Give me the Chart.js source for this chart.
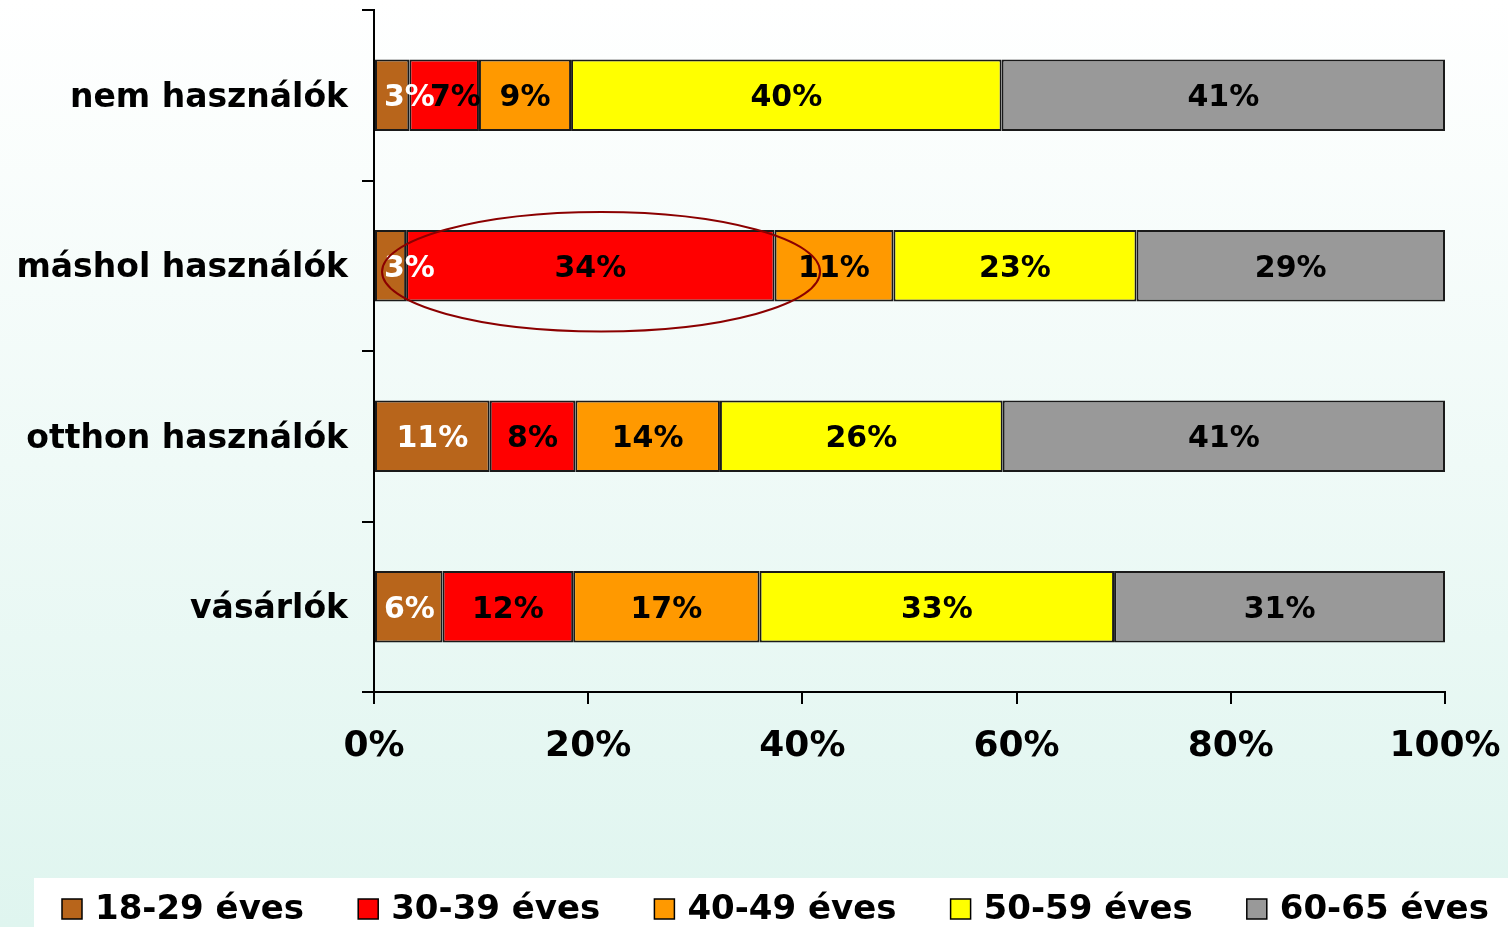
<!DOCTYPE html>
<html lang="hu">
<head>
    <meta charset="UTF-8">
    <script src="https://cdn.jsdelivr.net/npm/chart.js"></script>
    <title>Korcsoportok</title>
    <style>
        html, body { margin: 0; padding: 0; }
        body { width: 1508px; height: 927px; background: linear-gradient(to bottom, #ffffff 0%, #dff5ef 100%); overflow: hidden; }
        #wrap { width: 1508px; height: 927px; }
    </style>
</head>
<body>
    <div id="wrap"><canvas id="chart"></canvas></div>
    <script>
        const categories = ['nem használók', 'máshol használók', 'otthon használók', 'vásárlók'];
        const seriesNames = ['18-29 éves', '30-39 éves', '40-49 éves', '50-59 éves', '60-65 éves'];
        const seriesColors = ['#b8651b', '#ff0000', '#ff9900', '#ffff00', '#999999'];

        // shares in %, one array per age group, in category order
        const age18_29 = [3.3, 3.0, 10.8, 6.4];
        const age30_39 = [6.5, 34.4, 8.0, 12.2];
        const age40_49 = [8.6, 11.1, 13.5, 17.4];
        const age50_59 = [40.2, 22.7, 26.4, 33.1];
        const age60_65 = [41.4, 28.8, 41.3, 30.9];

        // labels as printed on the bars
        const labels18_29 = ['3%', '3%', '11%', '6%'];
        const labels30_39 = ['7%', '34%', '8%', '12%'];
        const labels40_49 = ['9%', '11%', '14%', '17%'];
        const labels50_59 = ['40%', '23%', '26%', '33%'];
        const labels60_65 = ['41%', '29%', '41%', '31%'];

        const xTicks = [0, 20, 40, 60, 80, 100];

        // highlighted area: centre (value, category index) and radii in the same units
        const highlight = { x: 21.2, y: 1.035, rx: 20.45, ry: 0.35 };

        const allValues = [age18_29, age30_39, age40_49, age50_59, age60_65];
        const allLabels = [labels18_29, labels30_39, labels40_49, labels50_59, labels60_65];
        const FONT = '"DejaVu Sans", Verdana, sans-serif';

        const barLabels = {
            id: 'barLabels',
            afterDatasetsDraw(chart) {
                const ctx = chart.ctx;
                ctx.save();
                ctx.font = 'bold 30px ' + FONT;
                ctx.textBaseline = 'middle';
                ctx.textAlign = 'left';
                categories.forEach((c, j) => {
                    let prevRight = -Infinity;
                    chart.data.datasets.forEach((ds, i) => {
                        const bar = chart.getDatasetMeta(i).data[j];
                        const text = allLabels[i][j];
                        const w = ctx.measureText(text).width;
                        const start = Math.min(bar.x, bar.base);
                        const center = (bar.x + bar.base) / 2;
                        const left = Math.max(center - w / 2, start + 9, prevRight - 5);
                        ctx.fillStyle = i === 0 ? '#ffffff' : '#000000';
                        ctx.fillText(text, left, bar.y + 3);
                        prevRight = left + w;
                    });
                });
                ctx.restore();
            }
        };

        const ellipse = {
            id: 'ellipse',
            afterDatasetsDraw(chart) {
                const x = chart.scales.x, y = chart.scales.y;
                const cx = x.getPixelForValue(highlight.x);
                const rx = x.getPixelForValue(highlight.x + highlight.rx) - cx;
                const cy = y.getPixelForValue(highlight.y);
                const ry = y.getPixelForValue(highlight.y + highlight.ry) - cy;
                const ctx = chart.ctx;
                ctx.save();
                ctx.strokeStyle = '#8b0000';
                ctx.lineWidth = 2;
                ctx.beginPath();
                ctx.ellipse(cx, cy, rx, ry, 0, 0, Math.PI * 2);
                ctx.stroke();
                ctx.restore();
            }
        };

        const bottomLegend = {
            id: 'bottomLegend',
            afterDraw(chart) {
                const ctx = chart.ctx;
                ctx.save();
                ctx.fillStyle = '#ffffff';
                ctx.fillRect(34, 878, 1474, 49);
                ctx.font = 'bold 34px ' + FONT;
                ctx.textBaseline = 'middle';
                seriesNames.forEach((name, i) => {
                    const bx = 62 + i * 296.2;
                    ctx.fillStyle = seriesColors[i];
                    ctx.fillRect(bx, 899, 20, 20);
                    ctx.strokeStyle = '#000';
                    ctx.lineWidth = 1.5;
                    ctx.strokeRect(bx, 899, 20, 20);
                    ctx.fillStyle = '#000';
                    ctx.fillText(name, bx + 33, 910);
                });
                ctx.restore();
            }
        };

        new Chart(document.getElementById('chart'), {
            type: 'bar',
            data: {
                labels: categories,
                datasets: seriesNames.map((name, i) => ({
                    label: name,
                    data: allValues[i],
                    backgroundColor: seriesColors[i],
                    borderColor: '#1a1a1a',
                    borderWidth: 2,
                    borderSkipped: false,
                    barPercentage: 0.42,
                    categoryPercentage: 1
                }))
            },
            options: {
                indexAxis: 'y',
                responsive: true,
                maintainAspectRatio: false,
                animation: false,
                layout: { padding: { top: 10, right: 63, bottom: 135, left: 0 } },
                plugins: { legend: { display: false }, tooltip: { enabled: false } },
                scales: {
                    x: {
                        stacked: true,
                        min: 0,
                        max: 100,
                        afterBuildTicks(s) { s.ticks = xTicks.map(v => ({ value: v })); },
                        afterFit(s) {
                            s.height = 100;
                            s.paddingLeft = 0; s.paddingRight = 0;
                        },
                        ticks: {
                            callback: v => v + '%',
                            color: '#000',
                            font: { family: FONT, size: 36, weight: 'bold' },
                            padding: 21,
                            maxRotation: 0
                        },
                        grid: { drawOnChartArea: false, drawTicks: true, tickLength: 12, color: '#000', lineWidth: 2 },
                        border: { display: true, color: '#000', width: 2 }
                    },
                    y: {
                        stacked: true,
                        afterFit(s) {
                            s.width = 374;
                            s.paddingTop = 0; s.paddingBottom = 0;
                        },
                        ticks: {
                            color: '#000',
                            font: { family: FONT, size: 33, weight: 'bold' },
                            padding: 14,
                            labelOffset: 3
                        },
                        grid: { offset: true, drawOnChartArea: false, drawTicks: true, tickLength: 12, color: '#000', lineWidth: 2 },
                        border: { display: true, color: '#000', width: 2 }
                    }
                }
            },
            plugins: [barLabels, ellipse, bottomLegend]
        });
    </script>
</body>
</html>
